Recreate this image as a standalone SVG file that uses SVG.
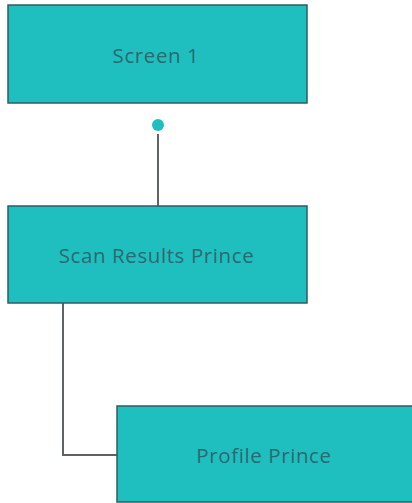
<svg xmlns="http://www.w3.org/2000/svg" width="412" height="503" viewBox="0 0 412 503">
  <style>
    .box { fill: #1fbfbf; stroke: #2e5e62; stroke-width: 1.5; }
    .label { font-family: "Open Sans", "Noto Sans", sans-serif; font-size: 20.5px; letter-spacing: 0.6px; fill: #2b6a70; text-anchor: middle; dominant-baseline: central; }
    .wire { fill: none; stroke: #5f6366; stroke-width: 2; }
  </style>
  <rect width="412" height="503" fill="#ffffff"/>
  <g id="connectors">
    <line class="wire" x1="158" y1="134" x2="158" y2="206"/>
    <circle cx="158" cy="125" r="6" fill="#1fbfbf"/>
    <polyline class="wire" points="63,303 63,455 117,455"/>
  </g>
  <g id="screen-1">
    <rect class="box" x="8" y="5" width="299" height="98"/>
    <text class="label" x="156" y="55">Screen 1</text>
  </g>
  <g id="scan-results-prince">
    <rect class="box" x="8" y="206" width="299" height="97"/>
    <text class="label" x="156.5" y="255">Scan Results Prince</text>
  </g>
  <g id="profile-prince">
    <rect class="box" x="117" y="406" width="300" height="96"/>
    <text class="label" x="264" y="455">Profile Prince</text>
  </g>
</svg>
